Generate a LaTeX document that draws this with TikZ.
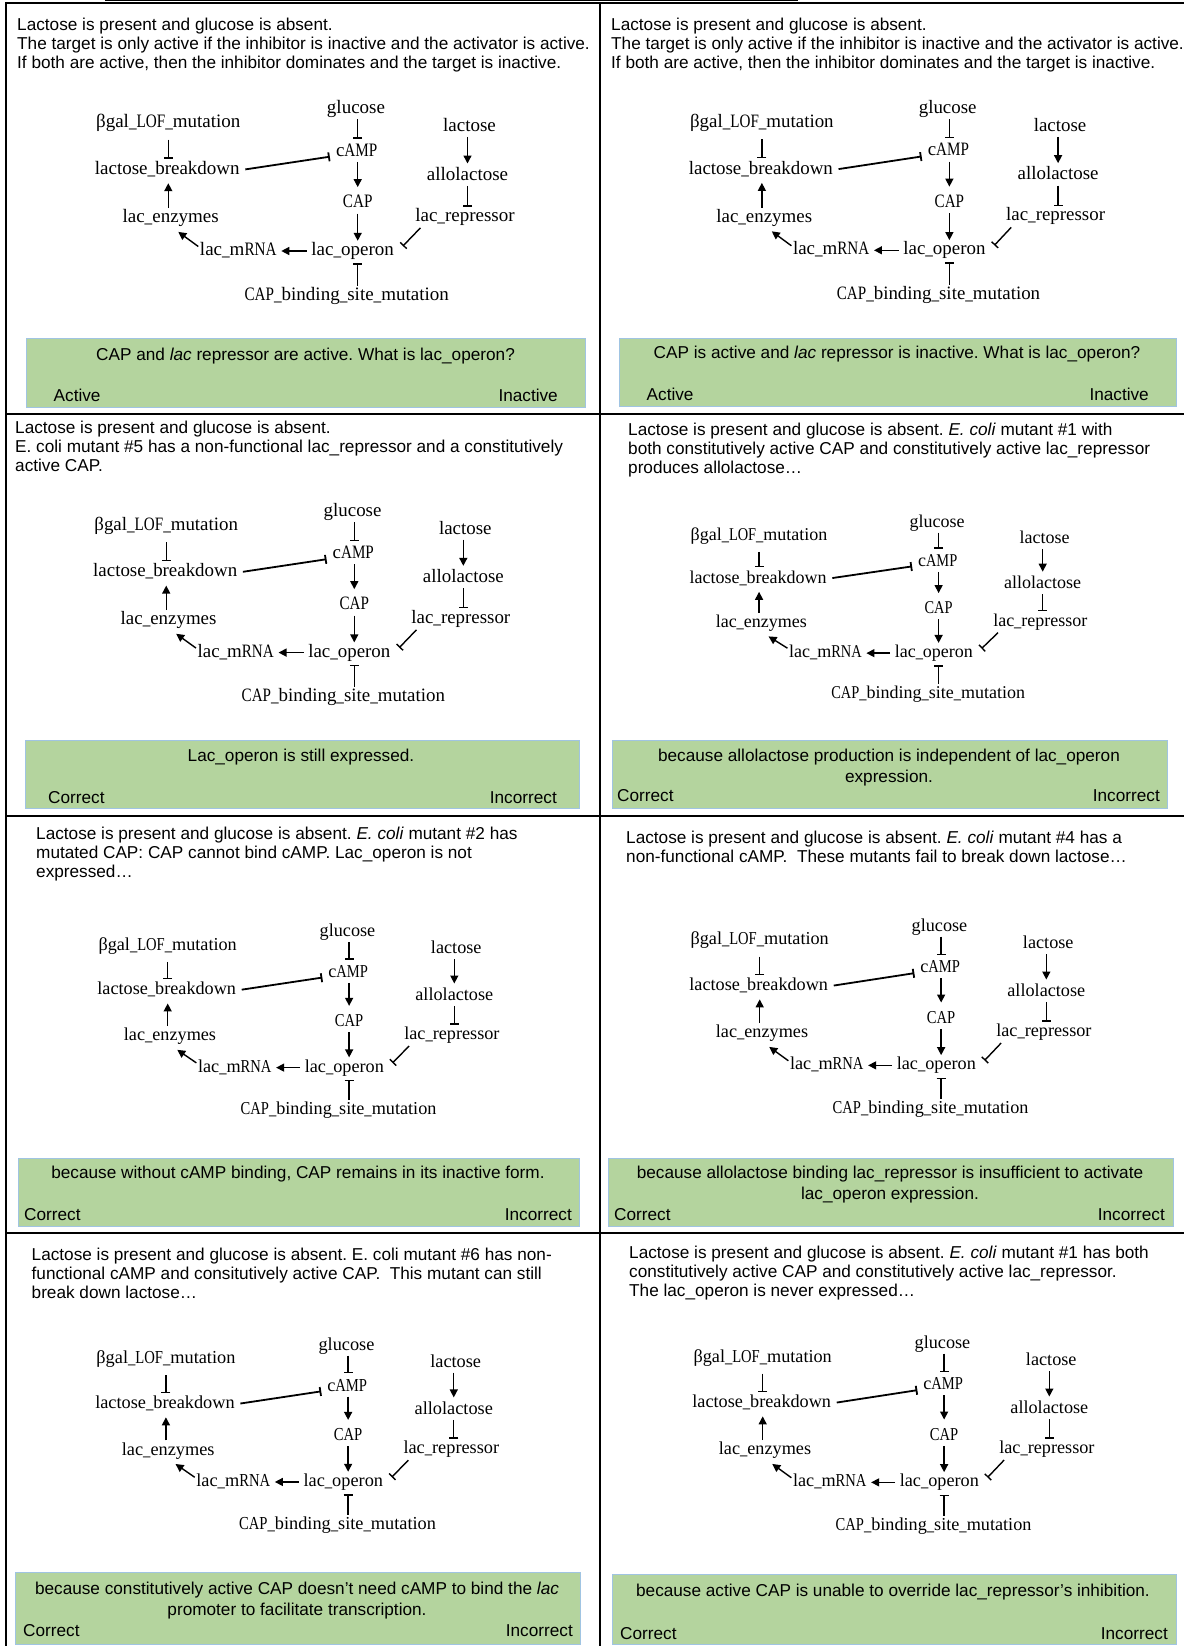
\documentclass[tikz,border=0pt]{standalone}
\usepackage{fontspec}
\usepackage{graphicx}
\setmainfont{Liberation Sans}
\newfontfamily\netfont{Liberation Serif}
\usetikzlibrary{arrows.meta}
\frenchspacing
\definecolor{gfill}{RGB}{180,212,158}
\definecolor{gline}{RGB}{160,196,226}
\newcommand\us{\scalebox{0.8}[1]{\_}}
\newcommand\cp[1]{\scalebox{0.8}[1]{#1}}
\tikzset{
  act/.style={line width=1.4pt,-{Triangle[length=8pt,width=8pt]}},
  inh/.style={line width=1.4pt,-{Bar[width=9pt]}},
  netnode/.style={inner sep=1.5pt,text height=13pt,text depth=4pt},
  celltext/.style={anchor=north west,inner sep=0pt,align=left,font=\fontsize{17.2}{19}\selectfont},
  gtext/.style={anchor=north,inner sep=0pt,align=center,font=\fontsize{17.2}{20.5}\selectfont},
  glabl/.style={anchor=north west,inner sep=0pt,font=\fontsize{17.2}{19}\selectfont},
  glabr/.style={anchor=north east,inner sep=0pt,font=\fontsize{17.2}{19}\selectfont},
  gbox/.style={fill=gfill,draw=gline,line width=0.8pt,anchor=north west,inner sep=0pt},
  gridline/.style={line width=2pt,black},
}
% #1 prefix, #2 x, #3 y, #4 xscale, #5 yscale, #6 font size
\newcommand\lacnet[6]{%
\begin{scope}[shift={(#2,#3)},xscale=#4,yscale=#5]
\begin{scope}[every node/.style={netnode,font=\netfont\fontsize{#6}{#6}\selectfont}]
\node (#1glu) at (0,0) {glucose};
\node (#1bgal) at (-187.7,14.3) {βgal\us\cp{LOF}\us mutation};
\node (#1lac) at (113.5,17.7) {lactose};
\node (#1camp) at (0.7,42.7) {c\cp{AMP}};
\node (#1lb) at (-188.7,61) {lactose\us breakdown};
\node (#1allo) at (111.5,66.7) {allolactose};
\node (#1cap) at (1.7,94.3) {\cp{CAP}};
\node (#1lr) at (109,107.7) {lac\us repressor};
\node (#1le) at (-185.3,109.3) {lac\us enzymes};
\node (#1lm) at (-117.7,142) {lac\us m\cp{RNA}};
\node (#1lo) at (-3.3,142) {lac\us operon};
\node (#1cbs) at (-9.3,186.7) {\cp{CAP}\us binding\us site\us mutation};
\end{scope}
\draw[inh,shorten >=3pt] (#1glu.south -| #1cap) -- (#1camp.north -| #1cap);
\draw[inh,shorten <=6pt,shorten >=1pt] (#1bgal.south) -- (#1lb.north -| #1bgal);
\draw[act,shorten >=3pt] (#1le.north -| #1bgal) -- (#1lb.south -| #1bgal);
\draw[inh,line width=1.8pt,shorten <=4pt] (#1lb.east) -- ([xshift=-4.5pt,yshift=-5pt]#1camp.west);
\draw[act,shorten >=6pt] (#1camp.south -| #1cap) -- (#1cap.north);
\draw[act,shorten >=2pt] (#1lac.south -| #1allo) -- (#1allo.north);
\draw[inh] (#1allo.south) -- (#1lr.north -| #1allo);
\draw[act] (#1cap.south) -- (#1lo.north -| #1cap);
\draw[inh,shorten >=2pt] (#1cbs.north -| #1cap) -- (#1lo.south -| #1cap);
\draw[act,shorten <=3pt,shorten >=3pt] (#1lo.west) -- (#1lm.east);
\draw[act] ([yshift=-5.7pt]#1lm.north west) -- ([xshift=7.6pt,yshift=-3.4pt]#1le.south);
\draw[inh] ([xshift=6.8pt,yshift=-1pt]#1lr.south west) -- ([xshift=7.3pt,yshift=5pt]#1lo.east);
\end{scope}}
\begin{document}
\begin{tikzpicture}[x=1pt,y=-1pt]
\useasboundingbox (0,0) rectangle (1184,1646);
\fill[white] (0,0) rectangle (1184,1646);
% table rules
\draw[line width=1pt] (105,0.7) -- (798,0.7);
\draw[gridline] (5,3) -- (1184,3);
\draw[gridline] (6,2) -- (6,1646);
\draw[gridline] (600,2) -- (600,1646);
\draw[gridline] (6,414) -- (1184,414);
\draw[gridline] (6,816) -- (1184,816);
\draw[gridline] (6,1233) -- (1184,1233);
% cell texts
\node[celltext] (t1) at (17,18) {Lactose is present and glucose is absent.\\The target is only active if the inhibitor is inactive and the activator is active.\\If both are active, then the inhibitor dominates and the target is inactive.};
\node[celltext] (t2) at (611,18) {Lactose is present and glucose is absent.\\The target is only active if the inhibitor is inactive and the activator is active.\\If both are active, then the inhibitor dominates and the target is inactive.};
\node[celltext] (t3) at (15,421) {Lactose is present and glucose is absent.\\E. coli mutant \#5 has a non-functional lac\_repressor and a constitutively\\active CAP.};
\node[celltext] (t4) at (628,423) {Lactose is present and glucose is absent. \textit{E. coli} mutant \#1 with\\both constitutively active CAP and constitutively active lac\_repressor\\produces allolactose…};
\node[celltext] (t5) at (36,827) {Lactose is present and glucose is absent. \textit{E. coli} mutant \#2 has\\mutated CAP: CAP cannot bind cAMP. Lac\_operon is not\\expressed…};
\node[celltext] (t6) at (626,830.5) {Lactose is present and glucose is absent. \textit{E. coli} mutant \#4 has a\\non-functional cAMP.\ \ These mutants fail to break down lactose…};
\node[celltext] (t7) at (31.5,1248) {Lactose is present and glucose is absent. E. coli mutant \#6 has non-\\functional cAMP and consitutively active CAP.\ \ This mutant can still\\break down lactose…};
\node[celltext] (t8) at (629,1246) {Lactose is present and glucose is absent. \textit{E. coli} mutant \#1 has both\\constitutively active CAP and constitutively active lac\_repressor.\\The lac\_operon is never expressed…};
% networks
\lacnet{n1}{356}{109}{1}{1}{19}
\lacnet{n2}{947.7}{109}{0.99}{0.995}{18.9}
\lacnet{n3}{352.6}{512}{0.993}{0.99}{18.9}
\lacnet{n4}{937}{522.5}{0.948}{0.92}{18}
\lacnet{n5}{347.5}{932}{0.958}{0.955}{18.2}
\lacnet{n6}{939.5}{926.5}{0.958}{0.978}{18.2}
\lacnet{n7}{346.5}{1345.5}{0.962}{0.961}{18.3}
\lacnet{n8}{942.5}{1343.5}{0.958}{0.978}{18.2}
% green answer boxes
\node[gbox,minimum width=559pt,minimum height=69pt] (g1) at (26,338) {};
\node[gbox,minimum width=557pt,minimum height=68pt] (g2) at (619,338) {};
\node[gbox,minimum width=554pt,minimum height=68pt] (g3) at (25,740) {};
\node[gbox,minimum width=555pt,minimum height=68pt] (g4) at (612,740) {};
\node[gbox,minimum width=561pt,minimum height=68pt] (g5) at (18,1158) {};
\node[gbox,minimum width=565pt,minimum height=68pt] (g6) at (608,1158) {};
\node[gbox,minimum width=565pt,minimum height=72pt] (g7) at (15,1572) {};
\node[gbox,minimum width=564pt,minimum height=70pt] (g8) at (612,1574) {};
\node[gtext] (q1) at (305.5,348) {CAP and \textit{lac} repressor are active. What is lac\_operon?};
\node[glabl] (a1) at (53.5,389) {Active};
\node[glabr] (b1) at (558,389) {Inactive};
\node[gtext] (q2) at (897,346) {CAP is active and \textit{lac} repressor is inactive. What is lac\_operon?};
\node[glabl] (a2) at (646.5,388) {Active};
\node[glabr] (b2) at (1149,388) {Inactive};
\node[gtext] (q3) at (301,749) {Lac\_operon is still expressed.};
\node[glabl] (a3) at (48,791) {Correct};
\node[glabr] (b3) at (557,791) {Incorrect};
\node[gtext] (q4) at (889,749) {because allolactose production is independent of lac\_operon\\expression.};
\node[glabl] (a4) at (617,789) {Correct};
\node[glabr] (b4) at (1160,789) {Incorrect};
\node[gtext] (q5) at (298,1166) {because without cAMP binding, CAP remains in its inactive form.};
\node[glabl] (a5) at (24,1208) {Correct};
\node[glabr] (b5) at (572,1208) {Incorrect};
\node[gtext] (q6) at (890,1166) {because allolactose binding lac\_repressor is insufficient to activate\\lac\_operon expression.};
\node[glabl] (a6) at (614,1208) {Correct};
\node[glabr] (b6) at (1165,1208) {Incorrect};
\node[gtext] (q7) at (297,1582) {because constitutively active CAP doesn’t need cAMP to bind the \textit{lac}\\promoter to facilitate transcription.};
\node[glabl] (a7) at (23,1624) {Correct};
\node[glabr] (b7) at (573,1624) {Incorrect};
\node[gtext] (q8) at (893,1584) {because active CAP is unable to override lac\_repressor’s inhibition.};
\node[glabl] (a8) at (620,1627) {Correct};
\node[glabr] (b8) at (1168,1627) {Incorrect};
\end{tikzpicture}
\end{document}
